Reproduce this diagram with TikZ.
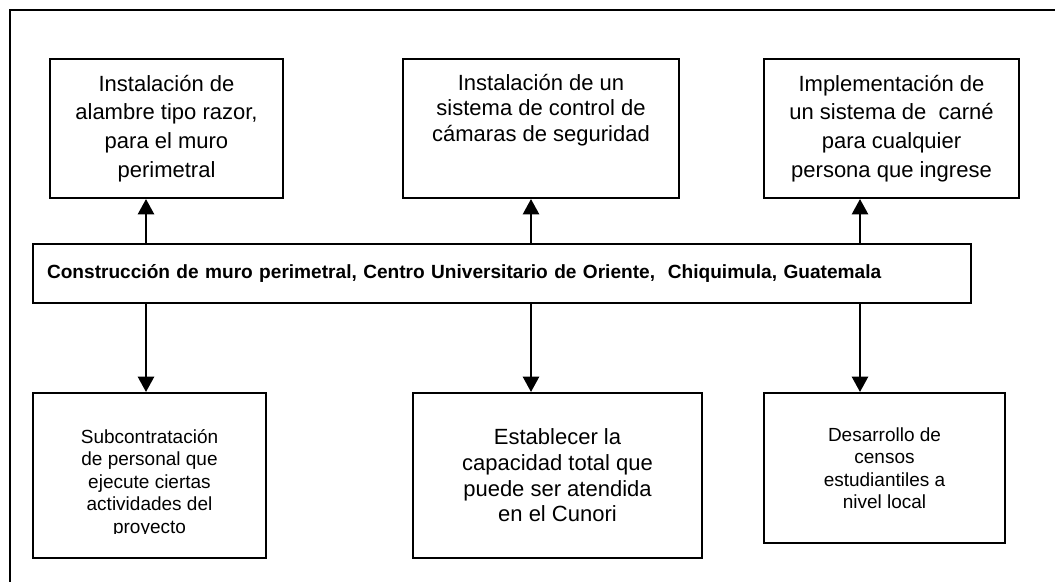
\documentclass[tikz,border=0pt]{standalone}
\usepackage{fontspec}
\setmainfont{Liberation Sans}
\usetikzlibrary{arrows.meta}

\tikzset{
	caja/.style={draw, line width=1.9pt, inner sep=0pt},
	flecha/.style={line width=2.9pt, -{Triangle[length=15.5pt,width=16pt]}},
	grande/.style={font=\fontsize{22}{28.7}\selectfont, align=center, inner sep=0pt},
	chica/.style={font=\fontsize{19}{22.5}\selectfont, align=center, inner sep=0pt},
}

\begin{document}
\begin{tikzpicture}[x=1pt,y=-1pt]
			\useasboundingbox (0,0) rectangle (1055,582);
			
			% Draw the outer frame
			\draw[line width=1.5pt] (1055,10) -- (10,10) -- (10,582);
			
			% Draw the top boxes
			\node[caja, grande, minimum width=233pt, minimum height=139pt] (alambre) at (166.5,128.5) {Instalación de\\alambre tipo razor,\\para el muro\\perimetral};
			\node[caja, minimum width=276pt, minimum height=139pt] (camaras) at (541,128.5) {};
			\node[grande, font=\fontsize{22}{25.5}\selectfont, anchor=north] (camarastxt) at (541,73.7) {Instalación de un\\sistema de control de\\cámaras de seguridad};
			\node[caja, grande, minimum width=255pt, minimum height=139pt] (carne) at (891.5,128.5) {Implementación de\\un sistema de~ carné\\para cualquier\\persona que ingrese};
			
			% Draw the main box
			\node[caja, minimum height=59pt, text width=910pt, inner xsep=14pt, align=left, font=\bfseries\fontsize{19.1}{23}\selectfont] (muro) at (502,273.5) {Construcción de muro perimetral, Centro Universitario de Oriente,~ Chiquimula, Guatemala};
			
			% Draw the bottom boxes
			\node[caja, minimum width=233pt, minimum height=165pt] (subcontrato) at (149.5,475.5) {};
			\coordinate (corte) at (0,533.5);
			\begin{scope}
				\clip (subcontrato.north west) rectangle (subcontrato.east |- corte);
				\node[chica, anchor=north] (subcontratotxt) at (149.5,429) {Subcontratación\\de personal que\\ejecute ciertas\\actividades del\\proyecto};
			\end{scope}
			\node[caja, grande, font=\fontsize{22}{25.6}\selectfont, minimum width=289pt, minimum height=165pt] (capacidad) at (557.5,475.5) {Establecer la\\capacidad total que\\puede ser atendida\\en el Cunori};
			\node[caja, chica, minimum width=241pt, minimum height=150pt] (censos) at (884.5,468) {Desarrollo de\\censos\\estudiantiles a\\nivel local};
			
			% Draw the arrows up and down from the main box
			\coordinate (x1) at (146,0);
			\coordinate (x2) at (531,0);
			\coordinate (x3) at (860,0);
			\draw[flecha] (x1 |- muro.north) -- (x1 |- alambre.south);
			\draw[flecha] (x2 |- muro.north) -- (x2 |- camaras.south);
			\draw[flecha] (x3 |- muro.north) -- (x3 |- carne.south);
			\draw[flecha] (x1 |- muro.south) -- (x1 |- subcontrato.north);
			\draw[flecha] (x2 |- muro.south) -- (x2 |- capacidad.north);
			\draw[flecha] (x3 |- muro.south) -- (x3 |- censos.north);
\end{tikzpicture}
\end{document}
